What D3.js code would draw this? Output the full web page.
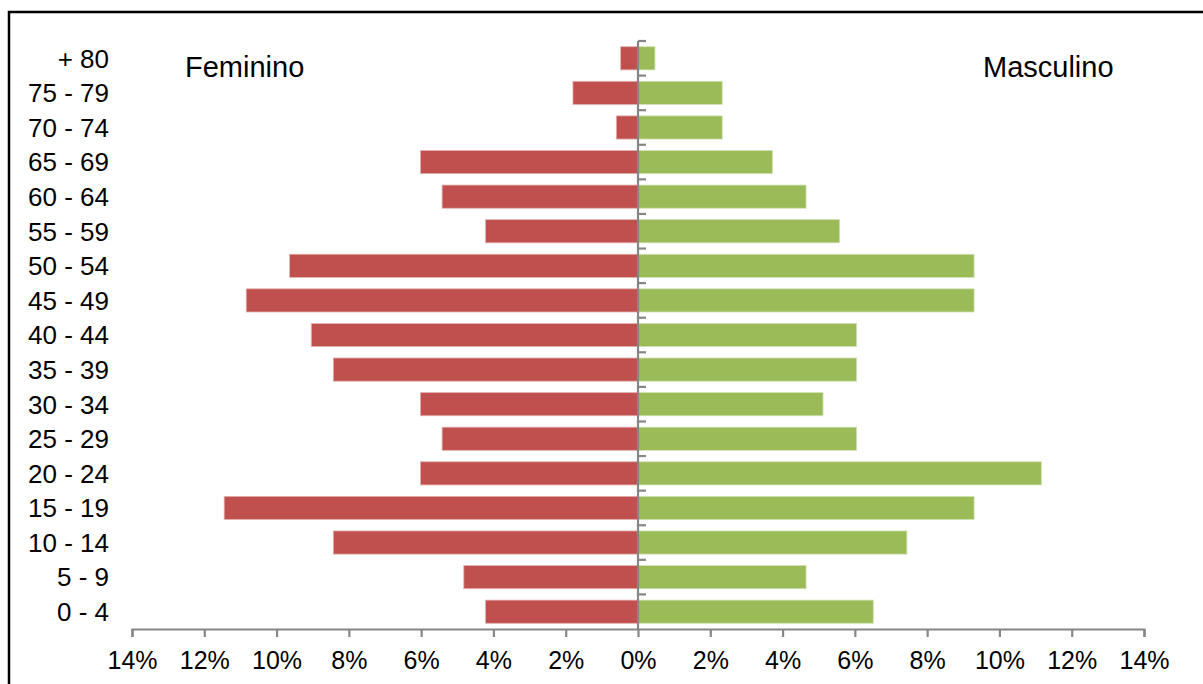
<!DOCTYPE html>
<html>
<head>
<meta charset="utf-8">
<script src="https://cdn.jsdelivr.net/npm/d3@7"></script>
<style>
  html, body { margin: 0; padding: 0; background: #fff; }
  svg { display: block; }
  text { font-family: "Liberation Sans", Arial, sans-serif; fill: #000; }
</style>
</head>
<body>
<script>
// Age groups, top to bottom
const categories = ["+ 80", "75 - 79", "70 - 74", "65 - 69", "60 - 64", "55 - 59",
  "50 - 54", "45 - 49", "40 - 44", "35 - 39", "30 - 34", "25 - 29",
  "20 - 24", "15 - 19", "10 - 14", "5 - 9", "0 - 4"];

// Share of each sex per age group (%)
const feminino = [0.48, 1.80, 0.60, 6.02, 5.42, 4.22, 9.64, 10.84, 9.04, 8.43,
  6.02, 5.42, 6.02, 11.45, 8.43, 4.82, 4.22];
const masculino = [0.47, 2.33, 2.33, 3.72, 4.65, 5.58, 9.30, 9.30, 6.05, 6.05,
  5.12, 6.05, 11.16, 9.30, 7.44, 4.65, 6.51];

// Axis ticks (absolute percentages on both sides)
const tickValues = [-14, -12, -10, -8, -6, -4, -2, 0, 2, 4, 6, 8, 10, 12, 14];

const W = 1203, H = 684;
const svg = d3.select("body").append("svg").attr("width", W).attr("height", H);

// Frame
svg.append("rect")
  .attr("x", 9).attr("y", 12).attr("width", W).attr("height", H)
  .attr("fill", "none").attr("stroke", "#000").attr("stroke-width", 2.5);

const x = d3.scaleLinear().domain([-14, 14]).range([132, 1144]);
const y = d3.scaleBand().domain(categories).range([41, 629]).paddingInner(0.33).paddingOuter(0.165);
const yb = d3.scaleBand().domain(categories).range([41, 629]);

const rows = categories.map((c, i) => ({ c, f: feminino[i], m: masculino[i] }));

// Bars
svg.append("g").selectAll("rect").data(rows).join("rect")
  .attr("x", d => x(-d.f)).attr("y", d => y(d.c))
  .attr("width", d => x(0) - x(-d.f)).attr("height", y.bandwidth())
  .attr("fill", "#C0504D").attr("stroke", "#e3b3b2").attr("stroke-width", 0.8);

svg.append("g").selectAll("rect").data(rows).join("rect")
  .attr("x", x(0)).attr("y", d => y(d.c))
  .attr("width", d => x(d.m) - x(0)).attr("height", y.bandwidth())
  .attr("fill", "#9BBB59").attr("stroke", "#d3e2b8").attr("stroke-width", 0.8);

const axisColor = "#868686";

// Horizontal axis
const xAxis = d3.axisBottom(x).tickValues(tickValues).tickSize(8).tickSizeOuter(8)
  .tickFormat(d => Math.abs(d) + "%");
const gx = svg.append("g").attr("transform", "translate(0,629)").call(xAxis);
gx.select(".domain").attr("stroke", axisColor).attr("stroke-width", 2.2);
gx.selectAll(".tick line").attr("stroke", axisColor).attr("stroke-width", 2.2);
gx.selectAll(".tick text").attr("font-size", 25).attr("dy", 0).attr("y", 40)
  .attr("font-family", "Liberation Sans, Arial, sans-serif").attr("fill", "#000");

// Vertical axis at zero with ticks on band boundaries
svg.append("line")
  .attr("x1", x(0)).attr("x2", x(0)).attr("y1", 41).attr("y2", 629)
  .attr("stroke", axisColor).attr("stroke-width", 2.2);
svg.append("g").selectAll("line").data(categories).join("line")
  .attr("x1", x(0)).attr("x2", x(0) + 8)
  .attr("y1", d => yb(d)).attr("y2", d => yb(d))
  .attr("stroke", axisColor).attr("stroke-width", 2.2);

// Category labels
svg.append("g").selectAll("text").data(categories).join("text")
  .attr("x", 109).attr("y", d => yb(d) + yb.bandwidth() / 2)
  .attr("dy", "0.36em").attr("text-anchor", "end").attr("font-size", 26)
  .text(d => d);

// Sex labels
svg.append("text").attr("x", 185).attr("y", 77).attr("font-size", 29).text("Feminino");
svg.append("text").attr("x", 983).attr("y", 77).attr("font-size", 29).text("Masculino");
</script>
</body>
</html>
